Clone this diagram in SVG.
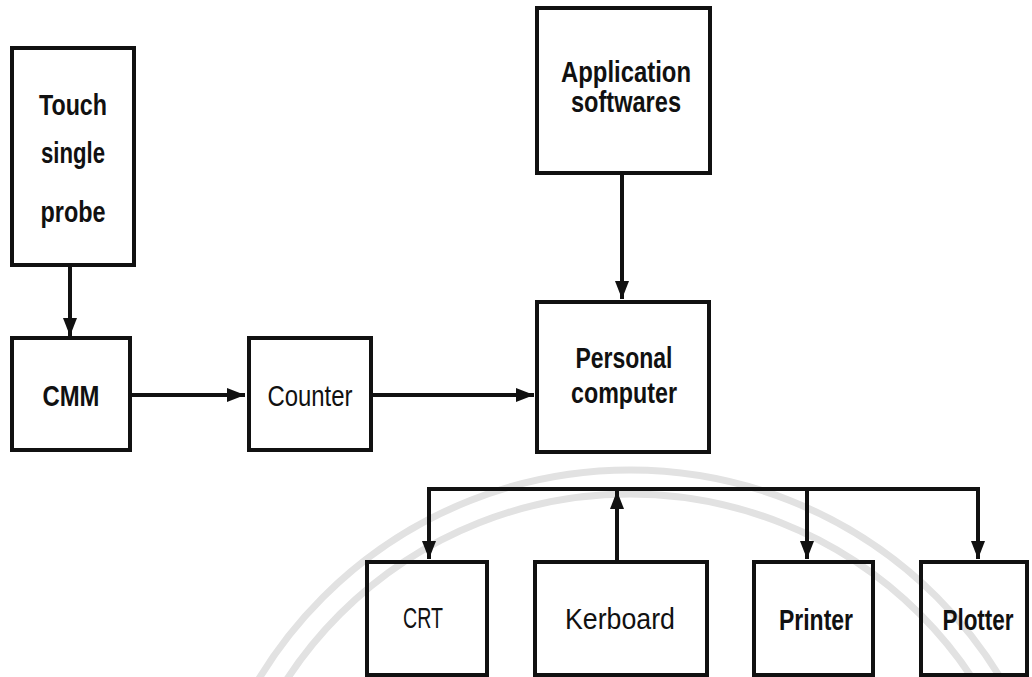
<svg xmlns="http://www.w3.org/2000/svg" width="1032" height="677" viewBox="0 0 1032 677">
  <defs>
    <style>
      .box { fill: none; stroke: #111111; stroke-width: 4; }
      .wire { fill: none; stroke: #111111; stroke-width: 4; }
      .t { font-family: "Liberation Sans", Arial, sans-serif; font-size: 29px; fill: #111111; text-anchor: middle; }
      .b { font-weight: bold; }
      .wm { fill: none; stroke: #e2e2e2; stroke-width: 7; }
    </style>
    <marker id="arr" markerUnits="userSpaceOnUse" markerWidth="18" markerHeight="14" refX="18" refY="7" orient="auto">
      <path d="M0,0 L18,7 L0,14 Z" fill="#111111"/>
    </marker>
  </defs>
  <rect width="1032" height="677" fill="#ffffff"/>

  <g id="watermark">
    <circle class="wm" cx="630" cy="904" r="434"/>
    <circle class="wm" cx="630" cy="904" r="410"/>
  </g>

  <g id="connectors">
    <path class="wire" d="M70,265 L70,336" marker-end="url(#arr)"/>
    <path class="wire" d="M130,395 L245,395" marker-end="url(#arr)"/>
    <path class="wire" d="M371,395 L534,395" marker-end="url(#arr)"/>
    <path class="wire" d="M622,173 L622,299" marker-end="url(#arr)"/>
    <path class="wire" d="M429,489 L978,489"/>
    <path class="wire" d="M429,487 L429,559" marker-end="url(#arr)"/>
    <path class="wire" d="M617,562 L617,491" marker-end="url(#arr)"/>
    <path class="wire" d="M807,489 L807,559" marker-end="url(#arr)"/>
    <path class="wire" d="M978,487 L978,559" marker-end="url(#arr)"/>
  </g>

  <g id="touch-probe">
    <rect class="box" x="12" y="48" width="122" height="217"/>
    <text class="t b" x="73" y="115" textLength="68" lengthAdjust="spacingAndGlyphs">Touch</text>
    <text class="t b" x="73" y="163" textLength="64" lengthAdjust="spacingAndGlyphs">single</text>
    <text class="t b" x="73" y="222" textLength="65" lengthAdjust="spacingAndGlyphs">probe</text>
  </g>

  <g id="cmm">
    <rect class="box" x="12" y="338" width="118" height="112"/>
    <text class="t b" x="71" y="406" textLength="57" lengthAdjust="spacingAndGlyphs">CMM</text>
  </g>

  <g id="counter">
    <rect class="box" x="249" y="338" width="122" height="112"/>
    <text class="t" x="310" y="406" textLength="85" lengthAdjust="spacingAndGlyphs">Counter</text>
  </g>

  <g id="application">
    <rect class="box" x="537" y="8" width="173" height="165"/>
    <text class="t b" x="626" y="82" textLength="130" lengthAdjust="spacingAndGlyphs">Application</text>
    <text class="t b" x="626" y="112" textLength="110" lengthAdjust="spacingAndGlyphs">softwares</text>
  </g>

  <g id="personal-computer">
    <rect class="box" x="537" y="302" width="172" height="150"/>
    <text class="t b" x="624" y="368" textLength="97" lengthAdjust="spacingAndGlyphs">Personal</text>
    <text class="t b" x="624" y="403" textLength="106" lengthAdjust="spacingAndGlyphs">computer</text>
  </g>

  <g id="crt">
    <rect class="box" x="367" y="562" width="120" height="113"/>
    <text class="t" x="423" y="628" textLength="40" lengthAdjust="spacingAndGlyphs">CRT</text>
  </g>

  <g id="keyboard">
    <rect class="box" x="535" y="562" width="172" height="113"/>
    <text class="t" x="620" y="629" textLength="110" lengthAdjust="spacingAndGlyphs">Kerboard</text>
  </g>

  <g id="printer">
    <rect class="box" x="754" y="562" width="119" height="113"/>
    <text class="t b" x="816" y="630" textLength="74" lengthAdjust="spacingAndGlyphs">Printer</text>
  </g>

  <g id="plotter">
    <rect class="box" x="921" y="562" width="106" height="113"/>
    <text class="t b" x="0" y="0" transform="translate(978,630) scale(0.775,1)">Plotter</text>
  </g>
</svg>
